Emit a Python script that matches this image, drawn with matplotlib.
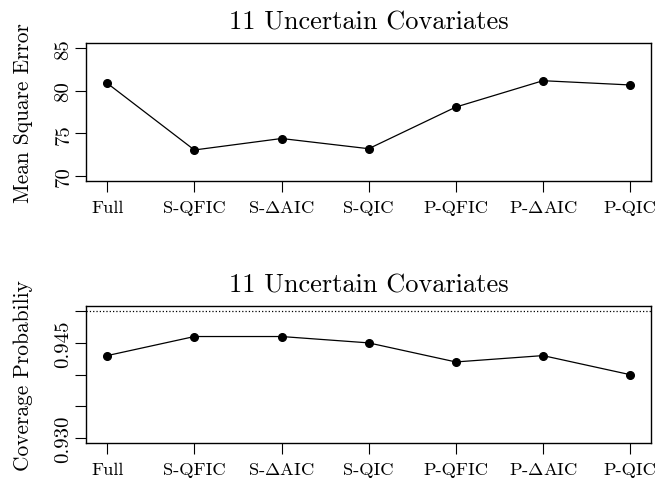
import numpy as np
import matplotlib
matplotlib.use('Agg')
import matplotlib.pyplot as plt

plt.rcParams['font.family'] = 'cmr10'
plt.rcParams['mathtext.fontset'] = 'cm'
plt.rcParams['axes.formatter.use_mathtext'] = True

# Data
methods = ['Full', 'S-QFIC', r'S-$\Delta$AIC', 'S-QIC', 'P-QFIC', r'P-$\Delta$AIC', 'P-QIC']
mse = [80.9, 73.05, 74.4, 73.2, 78.1, 81.2, 80.7]
coverage = [0.943, 0.946, 0.946, 0.945, 0.942, 0.943, 0.940]
nominal = 0.95

mse_ticks = [70, 75, 80, 85]
cov_ticks = [0.930, 0.935, 0.940, 0.945, 0.950]
cov_labels = ['0.930', '', '', '0.945', '']

x = np.arange(1, len(methods) + 1)

fig = plt.figure(figsize=(6.57, 4.81), dpi=100)
ax1 = fig.add_axes([0.1314, 0.6216, 0.8595, 0.2863])
ax2 = fig.add_axes([0.1314, 0.0763, 0.8595, 0.2854])


def style(ax, ylabel, yticks, ylabels):
    ax.set_xlim(0.76, 7.24)
    ax.set_xticks(x)
    ax.set_xticklabels(methods, fontsize=13.3, va='baseline')
    ax.set_yticks(yticks)
    ax.set_yticklabels(ylabels, fontsize=15, rotation=90, va='center')
    ax.tick_params(direction='out', length=8, width=0.8)
    ax.tick_params(axis='x', pad=14.4)
    ax.tick_params(axis='y', pad=2)
    for s in ax.spines.values():
        s.set_linewidth(1.0)
    ax.set_ylabel(ylabel, fontsize=15.4)
    ax.yaxis.set_label_coords(-0.0944, 0.5)
    ax.set_title('11 Uncertain Covariates', fontsize=19, pad=10.8)


ax1.plot(x, mse, color='black', linewidth=0.9, marker='o', markersize=5.5)
ax1.set_ylim(69.4, 85.6)
style(ax1, 'Mean Square Error', mse_ticks, [str(t) for t in mse_ticks])

ax2.plot(x, coverage, color='black', linewidth=0.9, marker='o', markersize=5.5)
ax2.axhline(nominal, color='black', linestyle=':', linewidth=0.9)
ax2.set_ylim(0.9292, 0.9508)
style(ax2, 'Coverage Probabiliy', cov_ticks, cov_labels)

fig.savefig('out.png', dpi=100)
